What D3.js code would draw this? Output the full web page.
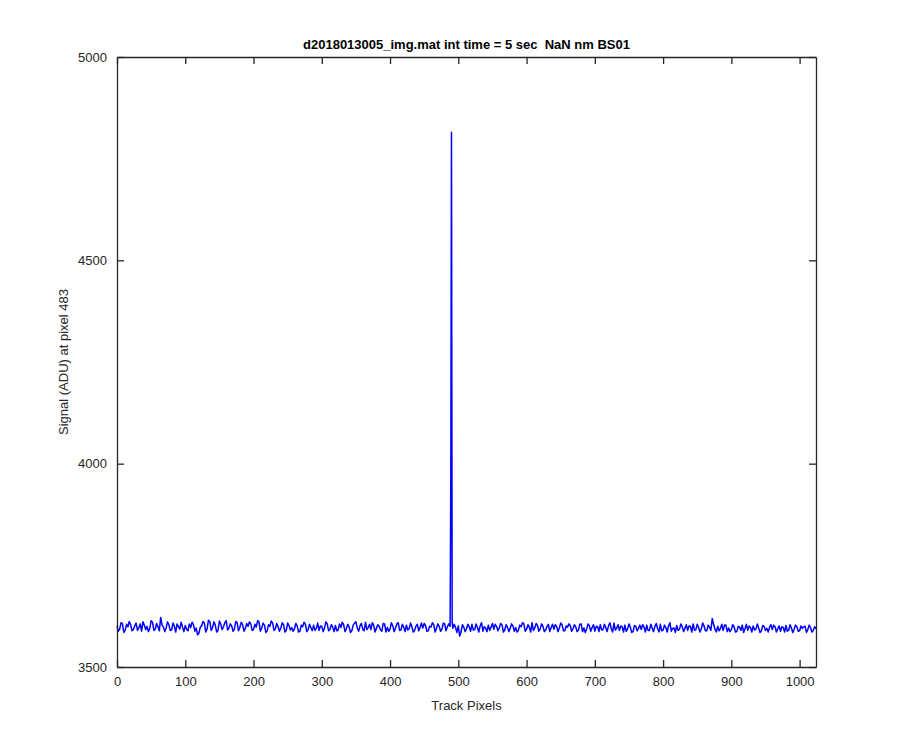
<!DOCTYPE html>
<html><head><meta charset="utf-8">
<script src="https://cdn.jsdelivr.net/npm/d3@7"></script>
<style>body{margin:0;background:#fff;} svg{display:block;font-family:"Liberation Sans",Arial,sans-serif;}</style>
</head><body>
<script>
const titleText = "d2018013005_img.mat int time = 5 sec  NaN nm BS01";
const xLabel = "Track Pixels";
const yLabel = "Signal (ADU) at pixel 483";
const xTicks = [0,100,200,300,400,500,600,700,800,900,1000];
const yTicks = [3500,4000,4500,5000];
// signal at track pixels 0,4,8,...,1024
const signalEven = [
3601,3594,3606,3590,3599,3604,3592,3608,3597,3588,3603,3600,3595,3610,3593,3599,
3622,3598,3596,3604,3591,3600,3606,3593,3598,3602,3589,3597,3605,3596,3583,3601,
3608,3594,3612,3597,3603,3590,3606,3599,3614,3596,3601,3593,3609,3598,3604,3595,
3600,3606,3592,3598,3611,3596,3603,3589,3600,3608,3594,3599,3596,3604,3590,3602,
3597,3594,3601,3588,3599,3605,3592,3597,3603,3595,3590,3600,3596,3606,3593,3598,
3602,3591,3597,3604,3594,3599,3589,3608,3596,3601,3593,3610,3597,3592,3603,3595,
3600,3588,3606,3597,3593,3601,3596,3609,3591,3598,3603,3594,3599,3590,3605,3597,
3596,3602,3589,3598,3604,3595,3600,3593,3606,3599,3612,3590,3597,3601,3586,3598,
3594,3599,3605,3592,3597,3601,3588,3596,3603,3598,3593,3600,3596,3604,3591,3598,
3595,3601,3597,3590,3599,3606,3593,3598,3609,3596,3602,3594,3600,3591,3605,3597,
3593,3600,3596,3604,3589,3598,3602,3594,3599,3591,3606,3596,3593,3601,3597,3588,
3599,3604,3592,3597,3601,3594,3608,3596,3590,3599,3603,3593,3598,3587,3600,3595,
3592,3598,3603,3590,3596,3600,3594,3605,3591,3597,3601,3588,3596,3602,3593,3599,
3595,3590,3600,3606,3592,3597,3594,3601,3589,3598,3619,3593,3600,3595,3590,3603,
3596,3592,3599,3587,3598,3603,3594,3590,3597,3601,3593,3596,3589,3600,3595,3598,
3592,3599,3594,3588,3597,3602,3591,3596,3593,3599,3589,3595,3600,3592,3597,3590,
3594];
// signal at track pixels 2,6,10,...,1022
const signalMid = [
3588,3609,3585,3605,3612,3589,3601,3590,3606,3611,3592,3587,3614,3590,3607,3589,
3603,3587,3611,3590,3608,3586,3599,3610,3587,3593,3606,3610,3588,3579,3598,3612,
3586,3615,3590,3611,3586,3613,3592,3609,3591,3606,3588,3612,3589,3610,3588,3607,
3611,3590,3605,3614,3588,3608,3585,3604,3613,3590,3607,3588,3609,3586,3608,3591,
3588,3607,3586,3603,3610,3587,3605,3589,3590,3608,3601,3587,3611,3589,3604,3587,
3589,3606,3610,3587,3605,3585,3603,3611,3588,3607,3589,3592,3605,3609,3586,3604,
3591,3607,3586,3588,3609,3587,3606,3590,3605,3587,3591,3608,3586,3601,3589,3608,
3607,3588,3600,3609,3586,3606,3588,3608,3589,3606,3596,3605,3585,3576,3604,3587,
3605,3588,3591,3606,3586,3609,3599,3587,3590,3607,3605,3589,3607,3586,3604,3587,
3606,3588,3586,3603,3609,3588,3604,3586,3590,3607,3588,3606,3587,3600,3587,3605,
3604,3587,3608,3589,3601,3606,3588,3604,3587,3605,3587,3585,3606,3588,3604,3600,
3587,3591,3605,3587,3609,3586,3591,3604,3601,3586,3588,3606,3585,3602,3589,3603,
3604,3586,3590,3605,3587,3607,3586,3589,3603,3586,3609,3595,3585,3590,3606,3587,
3604,3601,3586,3590,3605,3586,3608,3589,3603,3590,3605,3586,3589,3605,3603,3587,
3587,3604,3586,3600,3590,3585,3605,3601,3586,3591,3606,3585,3602,3590,3586,3604,
3603,3586,3601,3599,3586,3588,3604,3585,3603,3588,3601,3599,3585,3603,3586,3599];
const spikePixels = [488, 489, 490, 491, 492];
const spikeSignal = [3600, 3960, 4815, 3610, 3595];

const W = 900, H = 750;
const m = {left:117, right:816, top:57, bottom:667};
const svg = d3.select("body").append("svg").attr("width",W).attr("height",H);
const x = d3.scaleLinear().domain([0,1024]).range([m.left,m.right]);
const y = d3.scaleLinear().domain([3500,5000]).range([m.bottom,m.top]);

let pts = [];
signalEven.forEach((v,i)=>pts.push({p:i*4, v}));
signalMid.forEach((v,i)=>pts.push({p:i*4+2, v}));
pts = pts.filter(d=>!(d.p>=488 && d.p<=492));
spikePixels.forEach((p,i)=>pts.push({p, v:spikeSignal[i]}));
pts.sort((a,b)=>a.p-b.p);

svg.append("path").datum(pts)
  .attr("fill","none").attr("stroke","#0000ff").attr("stroke-width",1.5)
  .attr("stroke-linejoin","round")
  .attr("d", d3.line().x(d=>x(d.p)).y(d=>y(d.v)));

const axc = "#262626";
const tl = 7;
const fs = 13;
const fmt = d3.format("d");
const gb = svg.append("g").attr("transform",`translate(0,${m.bottom})`)
  .call(d3.axisBottom(x).tickValues(xTicks).tickSizeInner(-tl).tickSizeOuter(0).tickPadding(10).tickFormat(fmt));
const gt = svg.append("g").attr("transform",`translate(0,${m.top})`)
  .call(d3.axisTop(x).tickValues(xTicks).tickSizeInner(-tl).tickSizeOuter(0).tickFormat(""));
const gl = svg.append("g").attr("transform",`translate(${m.left},0)`)
  .call(d3.axisLeft(y).tickValues(yTicks).tickSizeInner(-tl).tickSizeOuter(0).tickPadding(10).tickFormat(fmt));
const gr = svg.append("g").attr("transform",`translate(${m.right},0)`)
  .call(d3.axisRight(y).tickValues(yTicks).tickSizeInner(-tl).tickSizeOuter(0).tickFormat(""));
[gb,gt,gl,gr].forEach(g=>{
  g.select(".domain").attr("stroke",axc).attr("stroke-width",1.3);
  g.selectAll(".tick line").attr("stroke",axc).attr("stroke-width",1.3);
  g.selectAll(".tick text").attr("fill",axc).attr("font-size",fs).attr("font-family","Liberation Sans, Arial, sans-serif");
});

svg.append("text").attr("x",(m.left+m.right)/2).attr("y",49).attr("text-anchor","middle")
  .style("white-space","pre")
  .attr("font-size",13).attr("font-weight","bold").attr("fill","#000").text(titleText);
svg.append("text").attr("x",(m.left+m.right)/2).attr("y",710).attr("text-anchor","middle")
  .attr("font-size",13).attr("fill",axc).text(xLabel);
svg.append("text").attr("transform",`translate(68,${(m.top+m.bottom)/2}) rotate(-90)`).attr("text-anchor","middle")
  .attr("font-size",13).attr("fill",axc).text(yLabel);
</script>
</body></html>
